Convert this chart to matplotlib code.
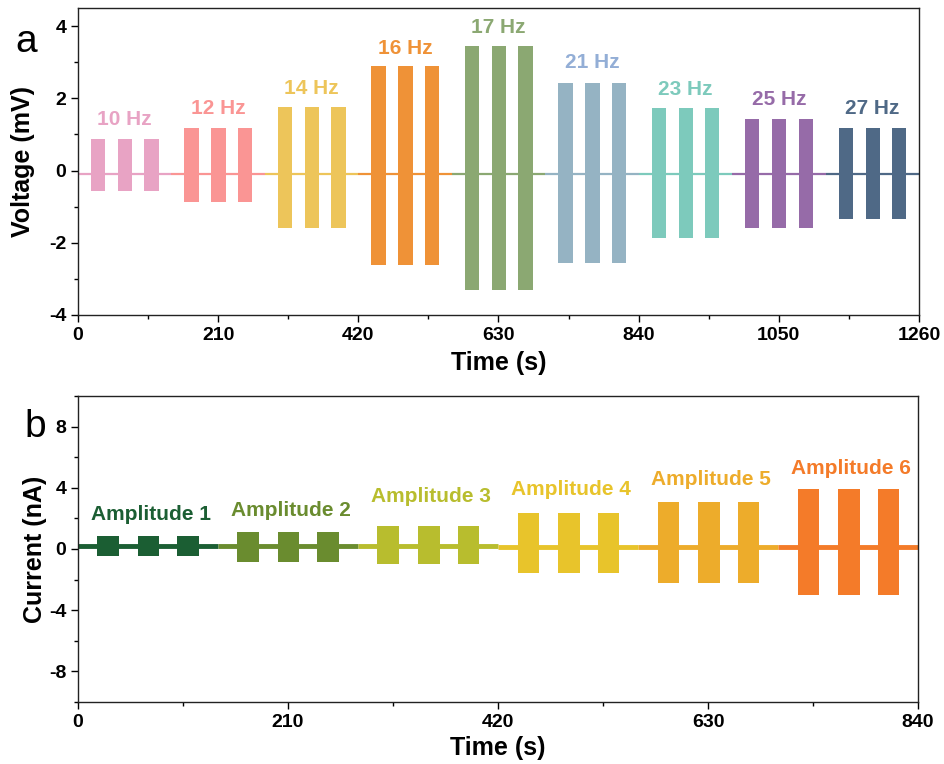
import numpy as np
import matplotlib.pyplot as plt
from matplotlib.ticker import MultipleLocator

plt.rcParams['font.family'] = ['Liberation Sans', 'DejaVu Sans']
plt.rcParams['font.weight'] = 'bold'
plt.rcParams['axes.unicode_minus'] = False

# (a) frequency sweep, voltage output
freq_labels = ['10 Hz', '12 Hz', '14 Hz', '16 Hz', '17 Hz', '21 Hz', '23 Hz', '25 Hz', '27 Hz']
freq_colors = ['#E8A3C4', '#FA9594', '#EDC55A', '#EF9237', '#8BA872',
               '#95B3C3', '#7DCABC', '#966BA8', '#4F6986']
freq_text_colors = ['#E8A3C4', '#FA9594', '#EDC55A', '#EF9237', '#8BA872',
                    '#93AED6', '#7DCABC', '#966BA8', '#4F6986']
volt_top = [0.86, 1.18, 1.77, 2.89, 3.45, 2.43, 1.72, 1.42, 1.17]
volt_bottom = [-0.57, -0.87, -1.59, -2.62, -3.31, -2.56, -1.86, -1.58, -1.35]
volt_baseline = -0.1
freq_label_y = [1.40, 1.73, 2.28, 3.39, 3.97, 3.00, 2.25, 1.98, 1.73]

# (b) amplitude sweep, current output
amp_labels = ['Amplitude 1', 'Amplitude 2', 'Amplitude 3',
              'Amplitude 4', 'Amplitude 5', 'Amplitude 6']
amp_colors = ['#1B5E33', '#6A8C2F', '#B8BD2E', '#E8C42B', '#EDAC2B', '#F47B29']
cur_top = [0.85, 1.11, 1.52, 2.33, 3.09, 3.89]
cur_bottom = [-0.44, -0.83, -1.00, -1.59, -2.24, -3.00]
cur_baseline = [0.22, 0.20, 0.20, 0.15, 0.15, 0.15]
amp_label_y = [2.28, 2.50, 3.40, 3.90, 4.57, 5.28]

# every test segment is 140 s long, with three pulse trains in it
segment_len = 140
burst_starts = [19.5, 60.0, 99.5]
burst_width = 21.5


def draw_segments(ax, tops, bottoms, baselines, colors, base_lw):
    for i, (top, bot, base, c) in enumerate(zip(tops, bottoms, baselines, colors)):
        t0 = i * segment_len
        ax.plot([t0, t0 + segment_len], [base, base], color=c, lw=base_lw,
                solid_capstyle='butt')
        starts = [t0 + s for s in burst_starts]
        ax.bar(starts, top - bot, bottom=bot, width=burst_width,
               align='edge', color=c, linewidth=0)


def style_axes(ax):
    ax.tick_params(which='both', direction='out', top=False, right=False,
                   labelsize=14, width=1.0)
    ax.tick_params(which='major', length=5)
    ax.tick_params(which='minor', length=3)
    for sp in ax.spines.values():
        sp.set_linewidth(1.0)
        sp.set_color('#222222')


fig = plt.figure(figsize=(9.44, 7.64), dpi=100)
ax1 = fig.add_axes([0.0826, 0.5877, 0.8909, 0.4018])
ax2 = fig.add_axes([0.0826, 0.0812, 0.8899, 0.4005])

draw_segments(ax1, volt_top, volt_bottom, [volt_baseline] * len(volt_top),
              freq_colors, 1.6)
for i, (lab, c, y) in enumerate(zip(freq_labels, freq_text_colors, freq_label_y)):
    ax1.text(i * segment_len + segment_len / 2, y, lab, color=c,
             ha='center', va='center', fontsize=15, fontweight='bold')
ax1.set_xlim(0, 1260)
ax1.set_ylim(-4, 4.5)
ax1.xaxis.set_major_locator(MultipleLocator(210))
ax1.xaxis.set_minor_locator(MultipleLocator(105))
ax1.yaxis.set_major_locator(MultipleLocator(2))
ax1.yaxis.set_minor_locator(MultipleLocator(1))
ax1.set_xlabel('Time (s)', fontsize=18, fontweight='bold', labelpad=5)
ax1.set_ylabel('Voltage (mV)', fontsize=18, fontweight='bold', labelpad=10)
style_axes(ax1)

draw_segments(ax2, cur_top, cur_bottom, cur_baseline, amp_colors, 3.5)
for i, (lab, c, y) in enumerate(zip(amp_labels, amp_colors, amp_label_y)):
    ax2.text(i * segment_len + segment_len / 2 + 3, y, lab, color=c,
             ha='center', va='center', fontsize=15, fontweight='bold')
ax2.set_xlim(0, 840)
ax2.set_ylim(-10, 10)
ax2.xaxis.set_major_locator(MultipleLocator(210))
ax2.xaxis.set_minor_locator(MultipleLocator(105))
ax2.yaxis.set_major_locator(MultipleLocator(4))
ax2.yaxis.set_minor_locator(MultipleLocator(2))
ax2.set_xlabel('Time (s)', fontsize=18, fontweight='bold', labelpad=4)
ax2.set_ylabel('Current (nA)', fontsize=18, fontweight='bold', labelpad=1)
style_axes(ax2)

fig.text(0.016, 0.932, 'a', fontsize=28, fontweight='normal', va='baseline')
fig.text(0.026, 0.428, 'b', fontsize=28, fontweight='normal', va='baseline')

fig.savefig('out.png', dpi=100)
